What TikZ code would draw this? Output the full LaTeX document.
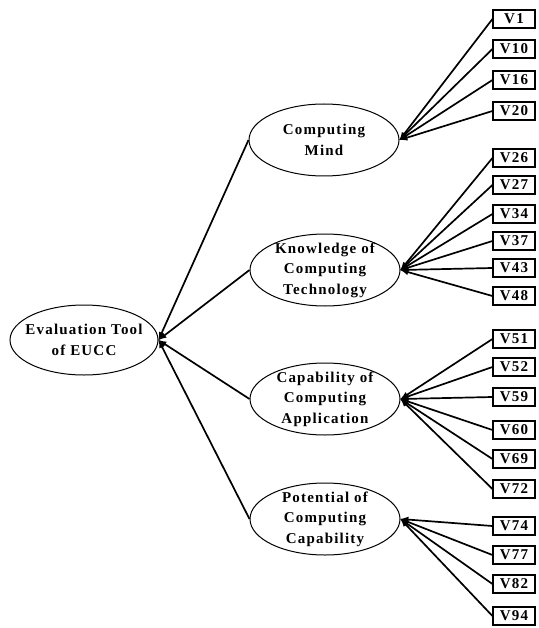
\documentclass[tikz,border=0pt]{standalone}
\usepackage{fontspec}
\setmainfont{Liberation Serif}[LetterSpace=8]
\usetikzlibrary{shapes.geometric,arrows}
\begin{document}
\begin{tikzpicture}[x=1pt, y=-1pt, font=\bfseries\fontsize{15}{20.5}\selectfont]
%% one unit is one pixel of the 538x628 picture, y grows downwards
\tikzstyle{arc}=[->,>=latex,line width=1.7pt]
\tikzstyle{factor}=[ellipse,draw,line width=1pt,minimum width=150,minimum height=72,align=center,inner xsep=-4pt,inner ysep=-5pt]
\tikzstyle{item}=[draw,line width=1.1pt,minimum width=42,minimum height=18,inner sep=0pt]
\useasboundingbox (0,0) rectangle (538,628);
%% root of the tree
\node[factor, minimum width=148, minimum height=70, inner xsep=-22pt] at (84,340) (EUCC) {Evaluation Tool\\of EUCC};
%% the four factors
\node[factor] at (324,140) (Mind) {Computing\\Mind};
\node[factor] at (325,270) (Knowledge) {Knowledge of\\Computing\\Technology};
\node[factor] at (325,399) (Application) {Capability of\\Computing\\Application};
\node[factor] at (325,519) (Capability) {Potential of\\Computing\\Capability};
%% arcs from the factors to the root
\foreach \target in {Mind,Knowledge,Application,Capability}
  \draw[arc] (\target.west) -- (EUCC.east);
%% items and their arcs
\foreach \name/\y/\target in {V1/19/Mind, V10/49/Mind, V16/80/Mind, V20/111/Mind,
    V26/158/Knowledge, V27/185/Knowledge, V34/214/Knowledge, V37/241/Knowledge,
    V43/268/Knowledge, V48/296/Knowledge,
    V51/339/Application, V52/367/Application, V59/397/Application, V60/430/Application,
    V69/459/Application, V72/489/Application,
    V74/526/Capability, V77/555/Capability, V82/584/Capability, V94/616/Capability} {
  \node[item] at (514,\y) (\name) {\name};
  \draw[arc] (\name.west) -- (\target.east);
}
\end{tikzpicture}
\end{document}
